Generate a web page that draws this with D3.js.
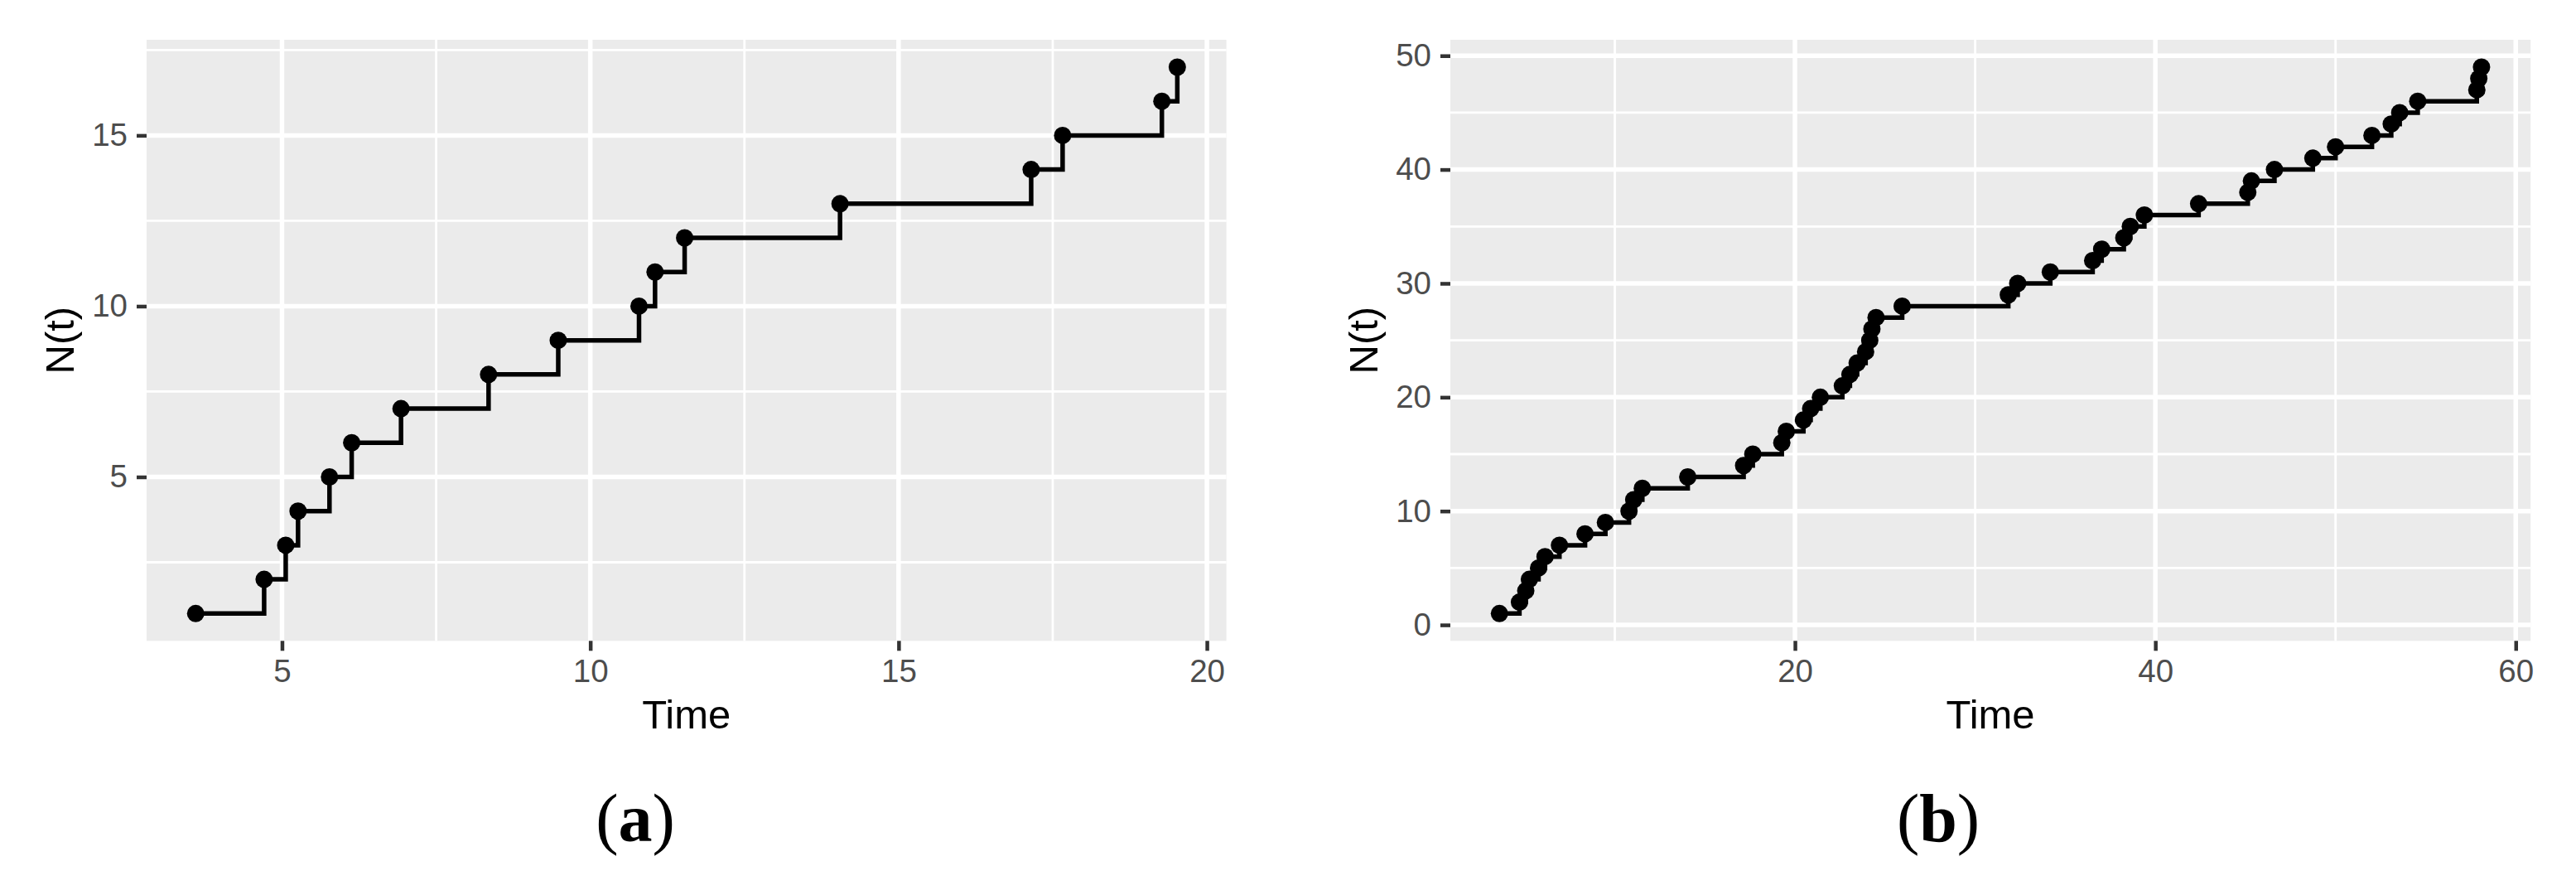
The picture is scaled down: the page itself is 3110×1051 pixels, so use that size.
<!DOCTYPE html>
<html>
<head>
<meta charset="utf-8">
<script src="https://cdn.jsdelivr.net/npm/d3@7"></script>
<style>
  body { margin: 0; background: #fff; }
</style>
</head>
<body>
<div id="main"></div>
<script>
// event times and counts, panel (a)
const aTime = [3.60, 4.71, 5.06, 5.26, 5.77, 6.13, 6.93, 8.35, 9.48, 10.79, 11.05, 11.53, 14.05, 17.15, 17.66, 19.27, 19.52];
const aCount = [1, 2, 3, 4, 5, 6, 7, 8, 9, 10, 11, 12, 13, 14, 15, 16, 17];

// panel (b)
const bTime = [3.60, 4.71, 5.06, 5.26, 5.77, 6.13, 6.93, 8.35, 9.48, 10.79, 11.05, 11.53, 14.05, 17.15, 17.66, 19.27, 19.52,
  20.47, 20.87, 21.41, 22.63, 23.05, 23.45, 23.92, 24.15, 24.27, 24.50, 25.95, 31.84, 32.36, 34.17, 36.52, 37.02,
  38.25, 38.61, 39.39, 42.40, 45.13, 45.33, 46.61, 48.74, 50.00, 52.02, 53.09, 53.56, 54.56, 57.84, 57.95, 58.10];
const bCount = [1, 2, 3, 4, 5, 6, 7, 8, 9, 10, 11, 12, 13, 14, 15, 16, 17, 18, 19, 20, 21, 22, 23, 24, 25,
  26, 27, 28, 29, 30, 31, 32, 33, 34, 35, 36, 37, 38, 39, 40, 41, 42, 43, 44, 45, 46, 47, 48, 49];

// ticks and grid
const aXTicks = [5, 10, 15, 20];
const aXMinor = [7.5, 12.5, 17.5];
const aYTicks = [5, 10, 15];
const aYMinor = [2.5, 7.5, 12.5, 17.5];
const bXTicks = [20, 40, 60];
const bXMinor = [10, 30, 50];
const bYTicks = [0, 10, 20, 30, 40, 50];
const bYMinor = [5, 15, 25, 35, 45];

const xTitle = "Time";
const yTitle = "N(t)";

class StepPanel {
  constructor(svg, config) {
    this.svg = svg;
    this.config = config;
    this.g = svg.append("g")
      .attr("transform", `translate(${config.left},${config.top})`);
    this.w = config.right - config.left;
    this.h = config.bottom - config.top;
  }

  createScales() {
    const c = this.config;
    const pad = (ext) => {
      const d = (ext[1] - ext[0]) * 0.05;
      return [ext[0] - d, ext[1] + d];
    };
    this.xScale = d3.scaleLinear().domain(pad(d3.extent(c.time))).range([0, this.w]);
    this.yScale = d3.scaleLinear().domain(pad(d3.extent(c.count))).range([this.h, 0]);
  }

  drawGrid() {
    const c = this.config;
    this.g.append("rect")
      .attr("width", this.w).attr("height", this.h)
      .attr("fill", "#EBEBEB");

    const grid = this.g.append("g").attr("stroke", "#fff");
    grid.selectAll(".xminor").data(c.xMinor).join("line")
      .attr("x1", d => this.xScale(d)).attr("x2", d => this.xScale(d))
      .attr("y1", 0).attr("y2", this.h).attr("stroke-width", 2.8);
    grid.selectAll(".yminor").data(c.yMinor).join("line")
      .attr("y1", d => this.yScale(d)).attr("y2", d => this.yScale(d))
      .attr("x1", 0).attr("x2", this.w).attr("stroke-width", 2.8);
    grid.selectAll(".xmajor").data(c.xTicks).join("line")
      .attr("x1", d => this.xScale(d)).attr("x2", d => this.xScale(d))
      .attr("y1", 0).attr("y2", this.h).attr("stroke-width", 5.5);
    grid.selectAll(".ymajor").data(c.yTicks).join("line")
      .attr("y1", d => this.yScale(d)).attr("y2", d => this.yScale(d))
      .attr("x1", 0).attr("x2", this.w).attr("stroke-width", 5.5);
  }

  drawAxes() {
    const c = this.config;
    const xAxis = d3.axisBottom(this.xScale).tickValues(c.xTicks).tickSize(12).tickPadding(10);
    const yAxis = d3.axisLeft(this.yScale).tickValues(c.yTicks).tickSize(12).tickPadding(11);

    const gx = this.g.append("g")
      .attr("transform", `translate(0,${this.h})`)
      .call(xAxis);
    const gy = this.g.append("g").call(yAxis);

    for (const ax of [gx, gy]) {
      ax.select(".domain").remove();
      ax.selectAll(".tick line").attr("stroke", "#333333").attr("stroke-width", 4.5);
      ax.selectAll(".tick text")
        .attr("fill", "#4D4D4D")
        .style("font-family", "'Liberation Sans', Arial, sans-serif")
        .style("font-size", "38.5px");
    }

    this.g.append("text")
      .attr("x", this.w / 2).attr("y", 879 - c.top)
      .attr("text-anchor", "middle")
      .style("font-family", "'Liberation Sans', Arial, sans-serif")
      .style("font-size", "49px")
      .text(xTitle);

    this.g.append("text")
      .attr("transform", `translate(-87.7,${this.h / 2}) rotate(-90)`)
      .attr("text-anchor", "middle")
      .style("font-family", "'Liberation Sans', Arial, sans-serif")
      .style("font-size", "49px")
      .text(yTitle);
  }

  render() {
    const c = this.config;
    const pts = c.time.map((t, i) => ({ t: t, n: c.count[i] }));
    const line = d3.line()
      .x(d => this.xScale(d.t))
      .y(d => this.yScale(d.n))
      .curve(d3.curveStepAfter);

    this.g.append("path")
      .datum(pts)
      .attr("fill", "none")
      .attr("stroke", "#000")
      .attr("stroke-width", 5.5)
      .attr("d", line);

    this.g.selectAll(".pt").data(pts).join("circle")
      .attr("cx", d => this.xScale(d.t))
      .attr("cy", d => this.yScale(d.n))
      .attr("r", 10.5)
      .attr("fill", "#000");
  }

  caption(cx, letter) {
    const t = this.svg.append("text")
      .attr("x", cx).attr("y", 1015)
      .attr("text-anchor", "middle")
      .style("font-family", "'Liberation Serif', 'Times New Roman', serif")
      .style("font-size", "82px");
    t.append("tspan").text("(");
    t.append("tspan").attr("font-weight", "bold").text(letter);
    t.append("tspan").text(")");
  }
}

const svg = d3.select("#main").append("svg")
  .attr("width", 3110).attr("height", 1051);

const panels = [
  { time: aTime, count: aCount, xTicks: aXTicks, xMinor: aXMinor, yTicks: aYTicks, yMinor: aYMinor,
    left: 177, right: 1480.6, top: 48, bottom: 773.3, capX: 767, letter: "a" },
  { time: bTime, count: bCount, xTicks: bXTicks, xMinor: bXMinor, yTicks: bYTicks, yMinor: bYMinor,
    left: 1751, right: 3055.2, top: 48, bottom: 773.3, capX: 2340, letter: "b" }
];

for (const cfg of panels) {
  const p = new StepPanel(svg, cfg);
  p.createScales();
  p.drawGrid();
  p.drawAxes();
  p.render();
  p.caption(cfg.capX, cfg.letter);
}
</script>
</body>
</html>
